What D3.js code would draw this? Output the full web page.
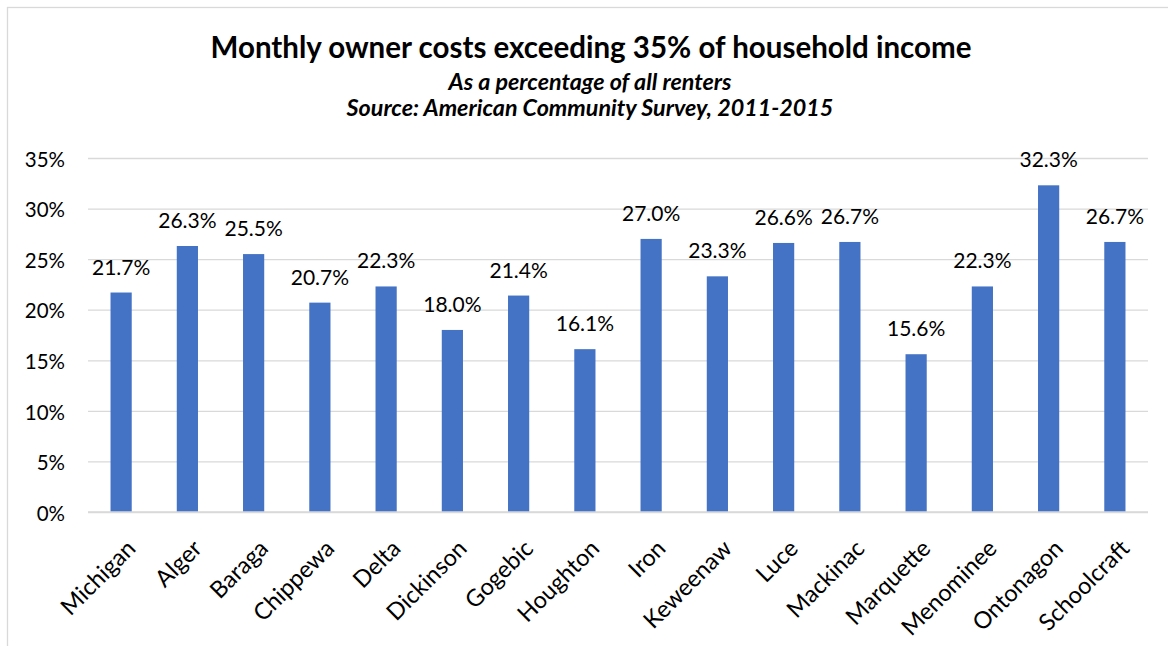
<!DOCTYPE html>
<html>
<head>
<meta charset="utf-8">
<script src="https://cdn.jsdelivr.net/npm/d3@7"></script>
<style>
  body { margin: 0; background: #fff; }
  svg { display: block; font-family: Lato, "Open Sans", sans-serif; }
</style>
</head>
<body>
<div class="chart"></div>
<script>
// data
var counties = ["Michigan", "Alger", "Baraga", "Chippewa", "Delta", "Dickinson", "Gogebic", "Houghton",
                "Iron", "Keweenaw", "Luce", "Mackinac", "Marquette", "Menominee", "Ontonagon", "Schoolcraft"];
var shares = [21.7, 26.3, 25.5, 20.7, 22.3, 18.0, 21.4, 16.1, 27.0, 23.3, 26.6, 26.7, 15.6, 22.3, 32.3, 26.7];
var yTicks = [0, 5, 10, 15, 20, 25, 30, 35];

var svgWidth = 1168, svgHeight = 646;
var margin = { top: 158, right: 20, bottom: 134, left: 88 };
var width = 1148 - margin.left;
var height = 512 - margin.top;

var svg = d3.select(".chart")
  .append("svg")
  .attr("width", svgWidth)
  .attr("height", svgHeight);

// chart frame (runs off the right and bottom of the window)
svg.append("rect")
  .attr("x", 7.5).attr("y", 7.5)
  .attr("width", 1200).attr("height", 700)
  .attr("fill", "none")
  .attr("stroke", "#d9d9d9")
  .attr("stroke-width", 1.3);

// titles
svg.append("text")
  .attr("x", 591).attr("y", 58)
  .attr("text-anchor", "middle")
  .attr("font-size", "29.5px")
  .attr("font-weight", "bold")
  .attr("fill", "#000")
  .text("Monthly owner costs exceeding 35% of household income");

svg.append("text")
  .attr("x", 590).attr("y", 90)
  .attr("text-anchor", "middle")
  .attr("font-size", "23.3px")
  .attr("font-weight", "bold")
  .attr("font-style", "italic")
  .attr("fill", "#000")
  .text("As a percentage of all renters");

svg.append("text")
  .attr("x", 590).attr("y", 116)
  .attr("text-anchor", "middle")
  .attr("font-size", "23.3px")
  .attr("font-weight", "bold")
  .attr("font-style", "italic")
  .attr("fill", "#000")
  .text("Source: American Community Survey, 2011-2015");

var chartGroup = svg.append("g")
  .attr("transform", `translate(${margin.left}, ${margin.top})`);

// scales
var xBand = d3.scaleBand()
  .domain(counties)
  .range([0, width])
  .paddingInner(0.68)
  .paddingOuter(0.34);

var yLinear = d3.scaleLinear()
  .domain([0, 35])
  .range([height, 0]);

// gridlines
chartGroup.append("g")
  .call(d3.axisLeft(yLinear).tickValues(yTicks).tickSize(-width).tickFormat(""))
  .call(g => g.select(".domain").remove())
  .selectAll("line")
  .attr("stroke", "#d9d9d9")
  .attr("stroke-width", 1.3);

// y tick labels
var leftAxis = chartGroup.append("g")
  .call(d3.axisLeft(yLinear).tickValues(yTicks).tickSize(0).tickPadding(23).tickFormat(d => d + "%"));
leftAxis.select(".domain").remove();
leftAxis.selectAll("text")
  .attr("font-family", "Lato, sans-serif")
  .attr("font-size", "20.5px")
  .attr("fill", "#000")
  .attr("dy", "0.4em");

// bars
chartGroup.selectAll("rect.bar")
  .data(shares)
  .enter()
  .append("rect")
  .attr("class", "bar")
  .attr("x", (d, i) => xBand(counties[i]))
  .attr("y", d => yLinear(d))
  .attr("width", xBand.bandwidth())
  .attr("height", d => height - yLinear(d))
  .attr("fill", "#4472c4");

// x axis line at 0%
chartGroup.append("line")
  .attr("x1", 0).attr("x2", width)
  .attr("y1", yLinear(0)).attr("y2", yLinear(0))
  .attr("stroke", "#d9d9d9")
  .attr("stroke-width", 1.5);

// value labels
chartGroup.selectAll("text.val")
  .data(shares)
  .enter()
  .append("text")
  .attr("class", "val")
  .attr("x", (d, i) => xBand(counties[i]) + xBand.bandwidth() / 2)
  .attr("y", d => yLinear(d) - 18)
  .attr("text-anchor", "middle")
  .attr("font-size", "21px")
  .attr("fill", "#000")
  .text(d => d.toFixed(1) + "%");

// category labels, rotated
chartGroup.selectAll("text.cat")
  .data(counties)
  .enter()
  .append("text")
  .attr("class", "cat")
  .attr("transform", d => `translate(${xBand(d) + xBand.bandwidth() / 2 + 4}, ${height + 26}) rotate(-45)`)
  .attr("text-anchor", "end")
  .attr("dy", "0.72em")
  .attr("font-size", "23.5px")
  .attr("fill", "#000")
  .text(d => d);
</script>
</body>
</html>
